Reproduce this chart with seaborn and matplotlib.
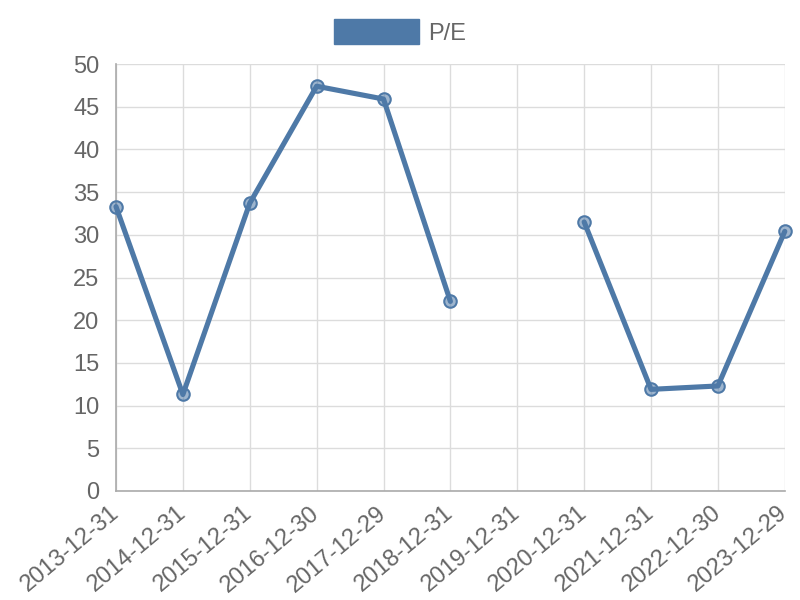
import numpy as np
import pandas as pd
import matplotlib
matplotlib.use('Agg')
import matplotlib.pyplot as plt
import seaborn as sns
from matplotlib.patches import Patch

dates = ['2013-12-31', '2014-12-31', '2015-12-31', '2016-12-30', '2017-12-29',
         '2018-12-31', '2019-12-31', '2020-12-31', '2021-12-31', '2022-12-30',
         '2023-12-29']
pe = [33.3, 11.3, 33.7, 47.4, 45.9, 22.2, np.nan, 31.5, 11.9, 12.3, 30.4]

color = '#4e79a7'

df = pd.DataFrame({'pos': range(len(dates)), 'date': dates, 'pe': pe})
# break the line where a value is missing
df['seg'] = df['pe'].isna().cumsum()
df = df.dropna()

sns.set_style('white')
plt.rcParams['font.family'] = ['Liberation Sans', 'DejaVu Sans']

fig = plt.figure(figsize=(8, 6), dpi=100)
ax = fig.add_axes([0.145, 0.1817, 0.836, 0.7116])

sns.lineplot(data=df, x='pos', y='pe', units='seg', estimator=None, ax=ax,
             color=color, linewidth=3.7, marker='o', markersize=9,
             markerfacecolor=(78/255, 121/255, 167/255, 0.55),
             markeredgecolor=color, markeredgewidth=1.5, clip_on=False,
             zorder=3)

ax.set_xlim(0, len(dates) - 1)
ax.set_ylim(0, 50)
ax.set_yticks(range(0, 51, 5))
ax.set_xticks(range(len(dates)))
ax.set_xticklabels(dates, rotation=40, ha='right', va='center',
                   rotation_mode='anchor')
ax.set_xlabel('')
ax.set_ylabel('')

ax.grid(True, color='#dcdcdc', linewidth=1)
ax.tick_params(axis='both', length=6, color='#dcdcdc', labelsize=17,
               labelcolor='#666666')
ax.tick_params(axis='y', pad=6)
ax.tick_params(axis='x', pad=8)
for s in ['top', 'right']:
    ax.spines[s].set_visible(False)
for s in ['left', 'bottom']:
    ax.spines[s].set_color('#aaaaaa')
    ax.spines[s].set_linewidth(1.2)

handle = Patch(facecolor=color, edgecolor=color, label='P/E')
fig.legend(handles=[handle], loc='center', bbox_to_anchor=(0.5, 0.947),
           frameon=False, fontsize=17, labelcolor='#666666',
           handlelength=3.64, handleheight=1.27, handletextpad=0.38)

fig.savefig('out.png', dpi=100)
